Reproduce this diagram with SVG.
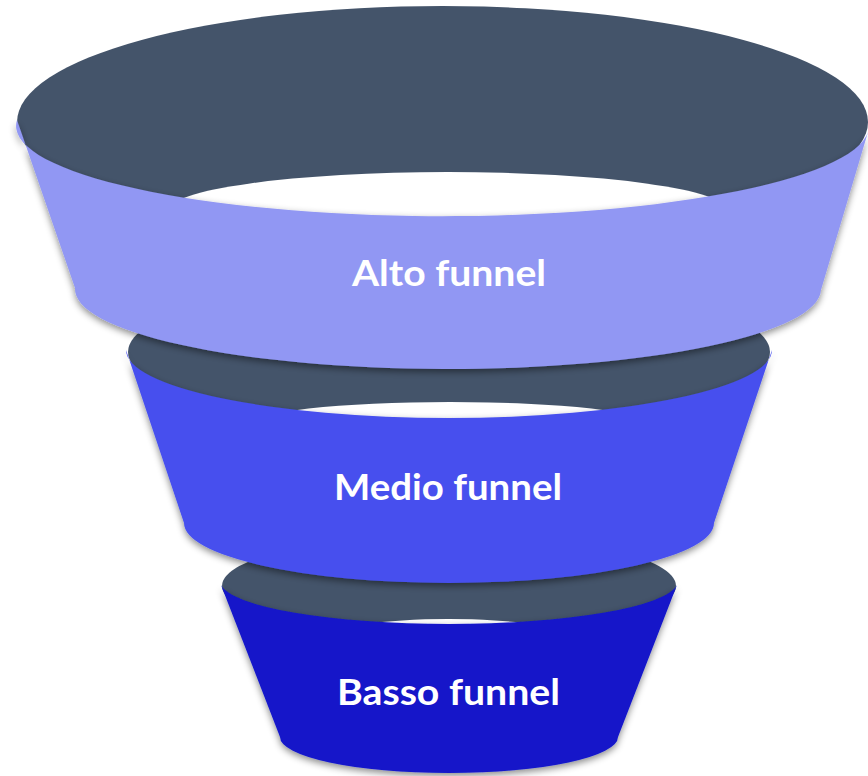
<svg xmlns="http://www.w3.org/2000/svg" width="868" height="776" viewBox="0 0 868 776">
<defs>
<filter id="sh" x="-10%" y="-10%" width="120%" height="130%">
<feDropShadow dx="0" dy="3" stdDeviation="3.5" flood-color="#000" flood-opacity="0.45"/>
</filter>
<style>
.rim{fill:#44546A}
.hole{fill:#FFFFFF}
.lbl{font-family:Lato,"Open Sans","Liberation Sans",sans-serif;font-weight:700;font-size:37px;fill:#FFFFFF;text-anchor:middle}
</style>
</defs>
<rect width="868" height="776" fill="#FFFFFF"/>
<g id="tier-bottom">
<ellipse class="rim" cx="449" cy="586" rx="227" ry="52"/>
<ellipse class="hole" cx="448.5" cy="637.5" rx="120" ry="18.5"/>
<path filter="url(#sh)" fill="#1319C9" d="M221,585 A229,43 0 0 0 677,585 L618,737 A169,36 0 0 1 280,737 Z"/>
<text class="lbl" x="448.5" y="705" textLength="223" lengthAdjust="spacingAndGlyphs">Basso funnel</text>
</g>
<g id="tier-mid">
<ellipse class="rim" cx="449" cy="352" rx="321" ry="76"/>
<ellipse class="hole" cx="450" cy="424.5" rx="200" ry="22.5"/>
<path filter="url(#sh)" fill="#4650EE" d="M126,350 A323,68 0 0 0 772,350 L714,523 A265,60 0 0 1 184,523 Z"/>
<text class="lbl" x="448" y="500" textLength="228" lengthAdjust="spacingAndGlyphs">Medio funnel</text>
</g>
<g id="tier-top">
<ellipse class="rim" cx="442.5" cy="122" rx="425.5" ry="116"/>
<ellipse class="hole" cx="448" cy="211" rx="280" ry="39"/>
<path filter="url(#sh)" fill="#9197F3" d="M17,120 A425.5,90 0 0 0 868,132 L821,290 A373,80 0 0 1 75,288 Z"/>
<text class="lbl" x="449" y="286" textLength="194" lengthAdjust="spacingAndGlyphs">Alto funnel</text>
</g>
</svg>
